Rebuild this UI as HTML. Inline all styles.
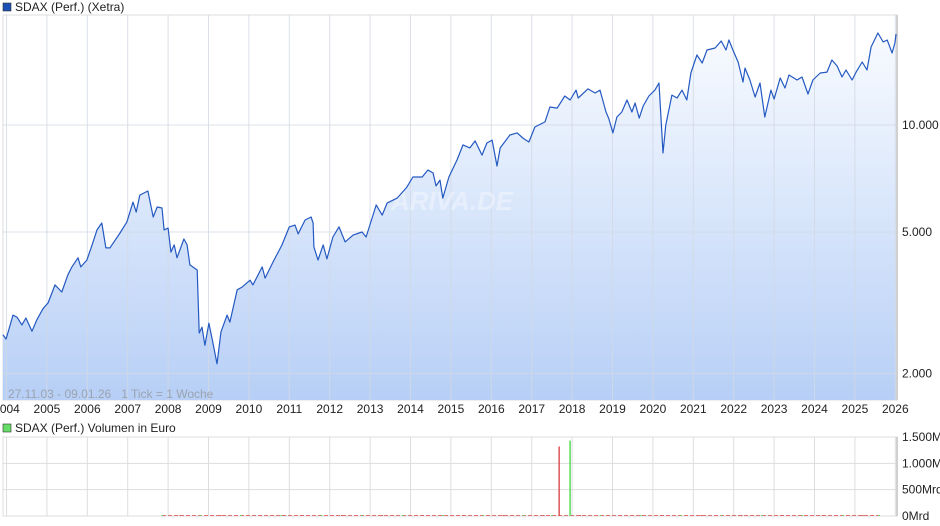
<!DOCTYPE html>
<html><head><meta charset="utf-8">
<style>
html,body{margin:0;padding:0;background:#fff;}
body{width:940px;height:526px;overflow:hidden;position:relative;font-family:"Liberation Sans",sans-serif;}
svg{position:absolute;left:0;top:0;}
</style></head>
<body>
<svg id="chart" width="940" height="526" viewBox="0 0 940 526" xmlns="http://www.w3.org/2000/svg">
<defs>
<linearGradient id="fillGrad" x1="0" y1="0" x2="0" y2="1">
<stop offset="0" stop-color="#f8fbff"/>
<stop offset="1" stop-color="#b7cff6"/>
</linearGradient>
</defs>
<rect x="3" y="3" width="8" height="8" fill="#1a4fb4" stroke="#333" stroke-width="0.6"/>
<text x="15" y="11" font-size="12" fill="#222">SDAX (Perf.) (Xetra)</text>
<g id="mainGrid"></g>
<path id="area" fill="url(#fillGrad)"/>
<g id="mainGrid2"></g>
<text x="452" y="210" font-size="26" font-style="italic" font-weight="bold" fill="#ffffff" fill-opacity="0.35" text-anchor="middle">ARIVA.DE</text>
<path id="line" fill="none" stroke="#2459c2" stroke-width="1.2" stroke-linejoin="round"/>
<text x="8" y="398" font-size="12" fill="#9aa3b0" style="white-space:pre" xml:space="preserve">27.11.03 - 09.01.26   1 Tick = 1 Woche</text>
<g id="xLabels"></g>
<g id="yLabels"></g>
<rect x="3" y="424" width="8" height="8" fill="#66dd66" stroke="#333" stroke-width="0.6"/>
<text x="15" y="432" font-size="12" fill="#222">SDAX (Perf.) Volumen in Euro</text>
<g id="volGrid"></g>
<g id="volBars"></g>
<g id="volLabels"></g>
</svg>
<script>
const dates=[2003.91,2003.99,2004.16,2004.26,2004.38,2004.48,2004.63,2004.75,2004.90,2005.03,2005.20,2005.37,2005.52,2005.62,2005.77,2005.84,2005.99,2006.12,2006.24,2006.36,2006.46,2006.56,2006.81,2006.98,2007.13,2007.21,2007.30,2007.50,2007.63,2007.73,2007.85,2007.90,2008.00,2008.07,2008.15,2008.22,2008.39,2008.47,2008.54,2008.72,2008.77,2008.84,2008.91,2009.01,2009.11,2009.21,2009.31,2009.46,2009.53,2009.71,2009.83,2010.03,2010.10,2010.33,2010.40,2010.60,2010.82,2011.00,2011.14,2011.22,2011.39,2011.54,2011.59,2011.61,2011.71,2011.84,2011.93,2012.08,2012.23,2012.38,2012.58,2012.80,2012.90,2013.05,2013.15,2013.30,2013.42,2013.67,2013.91,2014.06,2014.29,2014.43,2014.56,2014.63,2014.73,2014.80,2014.95,2015.15,2015.30,2015.47,2015.60,2015.77,2015.89,2016.02,2016.14,2016.22,2016.46,2016.64,2016.78,2016.93,2017.08,2017.33,2017.45,2017.63,2017.82,2017.95,2018.10,2018.15,2018.39,2018.57,2018.69,2018.84,2018.91,2019.01,2019.11,2019.23,2019.36,2019.48,2019.56,2019.66,2019.76,2019.90,2020.05,2020.15,2020.25,2020.32,2020.47,2020.60,2020.72,2020.84,2020.94,2021.09,2021.22,2021.34,2021.54,2021.69,2021.81,2021.88,2021.98,2022.11,2022.23,2022.28,2022.40,2022.53,2022.65,2022.77,2022.92,2023.00,2023.15,2023.27,2023.37,2023.57,2023.69,2023.84,2023.96,2024.14,2024.31,2024.43,2024.56,2024.68,2024.78,2024.93,2025.03,2025.18,2025.30,2025.40,2025.57,2025.70,2025.80,2025.92,2025.99,2026.02];
const prices=[2570,2500,2920,2880,2740,2865,2630,2830,3040,3160,3550,3390,3790,3990,4230,3990,4170,4600,5070,5300,4510,4510,4970,5340,6070,5690,6350,6520,5510,5880,5840,5070,5130,4390,4600,4230,4780,4600,4040,3910,2600,2700,2400,2770,2440,2130,2620,2920,2790,3440,3500,3660,3550,3990,3710,4120,4600,5170,5230,4940,5405,5510,5300,4540,4170,4600,4200,4840,5170,4690,4900,5000,4840,5475,5960,5580,6030,6230,6690,7140,7140,7470,7330,6740,7000,6230,7140,7970,8790,8620,9020,8230,8900,9070,7670,8620,9370,9500,9190,8960,9870,10200,11240,11160,12070,11760,12540,11910,12630,12300,12540,10880,10400,9500,10530,10880,11760,10880,11530,10460,11310,12070,12540,13130,8340,10000,12140,11910,12540,11760,14000,15740,14940,16250,16470,17230,16250,17340,16250,15040,13210,14460,13380,11990,13130,10530,12540,11830,13560,12710,13820,13380,13650,12220,13380,14000,14090,15230,14650,13650,14280,13380,14090,15040,14280,16570,18150,17120,17340,15940,17010,18030];
const yearTicks=[2004,2005,2006,2007,2008,2009,2010,2011,2012,2013,2014,2015,2016,2017,2018,2019,2020,2021,2022,2023,2024,2025,2026];
const priceTicks=[2000,5000,10000];
const priceTickLabels=["2.000","5.000","10.000"];
const volDates=[2007.85,2008.3,2008.8,2009.3,2009.8,2010.3,2010.8,2011.3,2011.8,2012.3,2012.8,2013.3,2013.8,2014.3,2014.8,2015.3,2015.8,2016.3,2016.8,2017.3,2017.5,2017.68,2017.95,2018.2,2018.7,2019.2,2019.7,2020.2,2020.7,2021.2,2021.7,2022.2,2022.7,2023.2,2023.7,2024.2,2024.7,2025.2,2025.6];
const volValues=[15,12,18,10,14,12,16,11,13,12,15,11,14,12,13,15,12,14,11,13,18,1320,1430,14,12,13,11,16,12,14,13,15,12,11,14,12,13,12,10];
const volTicks=[0,500,1000,1500];
const volTickLabels=["0Mrd","500Mrd","1.000Mrd","1.500Mrd"];

const NS="http://www.w3.org/2000/svg";
const X0=6.5, XPY=40.4, PL=3, PR=897, PT=15, PB=400;
const VT=437, VB=516;
function xs(t){return X0+(t-2004)*XPY;}
function ys(v){return 125+154.4*Math.log(10000/v);}
function yv(v){return VB-(v/1500)*(VB-VT);}
function mk(tag,attrs,parent){const e=document.createElementNS(NS,tag);for(const k in attrs)e.setAttribute(k,attrs[k]);parent.appendChild(e);return e;}

const mg=document.getElementById('mainGrid');
const border=mk('rect',{x:PL,y:PT,width:PR-PL,height:PB-PT,fill:'#fff',stroke:'#dddddd','stroke-width':1},mg);


const g2=document.getElementById('mainGrid2');
yearTicks.forEach(t=>{
  const x=xs(t);
  const l=mk('line',{x1:x,x2:x,y1:PT,y2:PB,stroke:'#d2d8e2','stroke-opacity':0.8,'stroke-width':1},g2);
  
  
  const tx=mk('text',{x:x,y:413,'font-size':12,fill:'#222','text-anchor':'middle'},document.getElementById('xLabels'));
  tx.textContent=String(t);
  
  
  const vl=mk('line',{x1:x,x2:x,y1:VT,y2:VB,stroke:'#dddddd','stroke-width':1},document.getElementById('volGrid'));
  
  
});
priceTicks.forEach((v,i)=>{
  const y=ys(v);
  const l=mk('line',{x1:PL,x2:PR,y1:y,y2:y,stroke:'#d2d8e2','stroke-opacity':0.8,'stroke-width':1},g2);
  
  
  const tx=mk('text',{x:902,y:y+4,'font-size':12,fill:'#222'},document.getElementById('yLabels'));
  tx.textContent=priceTickLabels[i];
  
  
});
const rb=mk('line',{x1:PR,x2:PR,y1:PT,y2:PB,stroke:'#d0d0d0','stroke-width':2},g2);



let d='';
dates.forEach((t,i)=>{d+=(i?'L':'M')+xs(t).toFixed(1)+','+ys(prices[i]).toFixed(1);});
document.getElementById('line').setAttribute('d',d);
document.getElementById('area').setAttribute('d',d+'L'+xs(dates[dates.length-1]).toFixed(1)+','+PB+'L'+xs(dates[0]).toFixed(1)+','+PB+'Z');

const vg=document.getElementById('volGrid');
const vb=mk('rect',{x:PL,y:VT,width:PR-PL,height:VB-VT,fill:'none',stroke:'#dddddd','stroke-width':1},vg);


volTicks.forEach((v,i)=>{
  const y=yv(v);
  const l=mk('line',{x1:PL,x2:PR,y1:y,y2:y,stroke:'#dddddd','stroke-width':1},vg);
  
  
  const tx=mk('text',{x:902,y:y+4,'font-size':12,fill:'#222'},document.getElementById('volLabels'));
  tx.textContent=volTickLabels[i];
  
  
});
const vrb=mk('line',{x1:PR,x2:PR,y1:VT,y2:VB,stroke:'#d0d0d0','stroke-width':2},vg);


const vbars=document.getElementById('volBars');
const base=mk('line',{x1:xs(volDates[0]),x2:xs(volDates[volDates.length-1]),y1:VB-0.5,y2:VB-0.5,stroke:'#e07070','stroke-width':1,'stroke-dasharray':'4 2'},vbars);


volDates.forEach((t,i)=>{
  const x=xs(t), y=yv(volValues[i]);
  const c=(i%2===0)?'#55dd55':'#dd5555';
  const b=mk('rect',{x:x-0.75,y:Math.min(y,VB-1),width:1.5,height:Math.max(VB-y,1),fill:c},vbars);
  
  
});
</script>
</body></html>
